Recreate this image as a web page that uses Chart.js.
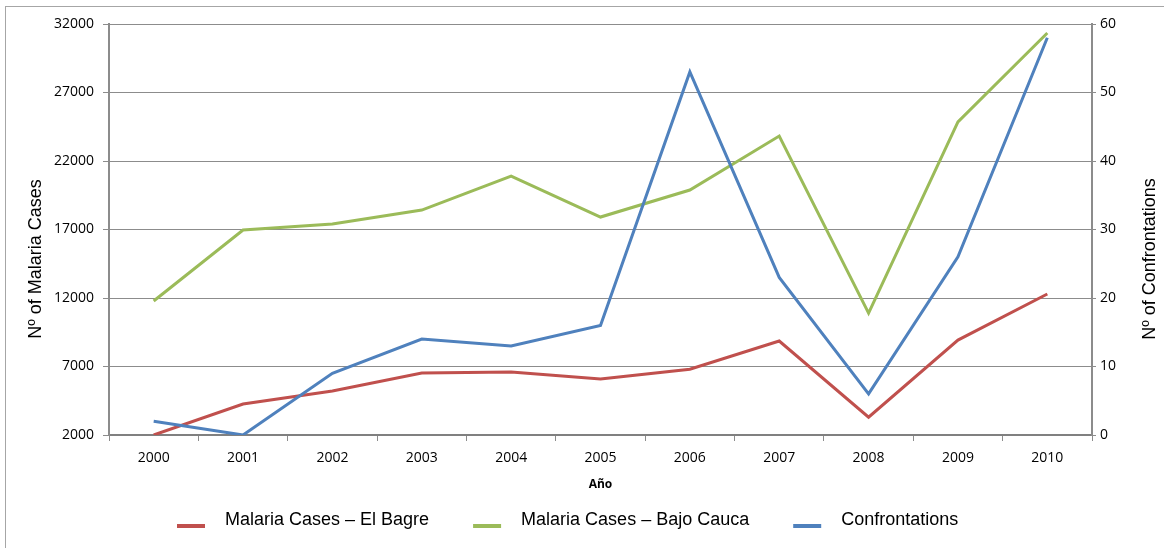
<!DOCTYPE html>
<html>
<head>
<meta charset="utf-8">
<title>Malaria cases and confrontations</title>
<script src="https://cdn.jsdelivr.net/npm/chart.js@4.4.0/dist/chart.umd.min.js"></script>
<style>
  html, body { margin: 0; padding: 0; background: #fff; }
  #wrap { width: 1164px; height: 548px; position: relative; }
</style>
</head>
<body>
<div id="wrap"><canvas id="malaria-chart"></canvas></div>
<script>
// values
const years = ["2000", "2001", "2002", "2003", "2004", "2005", "2006", "2007", "2008", "2009", "2010"]
const elBagreCases = [2000, 4260, 5210, 6530, 6600, 6090, 6800, 8860, 3300, 8930, 12290]
const bajoCaucaCases = [11780, 16960, 17400, 18420, 20900, 17910, 19880, 23820, 10900, 24850, 31340]
const confrontations = [2, 0, 9, 14, 13, 16, 53, 23, 6, 26, 58]

const seriesLabels = ["Malaria Cases – El Bagre", "Malaria Cases – Bajo Cauca", "Confrontations"]
const seriesColors = ["#C0504D", "#9BBB59", "#4F81BD"]

const leftTitle = "Nº of Malaria Cases"
const rightTitle = "Nº of Confrontations"
const xTitle = "Año"

const gridColor = "#8c8c8c"
const tickFont = { family: "'Open Sans', sans-serif", size: 14 }

// frame, rotated axis titles and the legend row under the chart
const chartDecor = {
  id: "chartDecor",
  beforeDraw(chart) {
    let ctx = chart.ctx
    ctx.save()
    ctx.strokeStyle = "#a6a6a6"
    ctx.lineWidth = 1
    ctx.strokeRect(5.5, 6.5, 3000, 3000)
    ctx.restore()
  },
  afterDraw(chart) {
    let ctx = chart.ctx
    ctx.save()
    ctx.font = "18px 'Liberation Sans', Arial, sans-serif"
    ctx.fillStyle = "#000"
    ctx.textAlign = "center"
    ctx.textBaseline = "middle"

    ctx.save()
    ctx.translate(36, 259)
    ctx.rotate(-Math.PI / 2)
    ctx.fillText(leftTitle, 0, 0)
    ctx.restore()

    ctx.save()
    ctx.translate(1150, 259)
    ctx.rotate(-Math.PI / 2)
    ctx.fillText(rightTitle, 0, 0)
    ctx.restore()

    // legend
    ctx.textAlign = "left"
    let x = 177
    chart.data.datasets.forEach(function (ds) {
      ctx.fillStyle = ds.borderColor
      ctx.fillRect(x, 524, 28, 4)
      ctx.fillStyle = "#000"
      ctx.fillText(ds.label, x + 48, 520)
      x += 48 + ctx.measureText(ds.label).width + 44
    })
    ctx.restore()
  },
}

let ctxLine = document.getElementById("malaria-chart").getContext("2d")
let malariaChart = new Chart(ctxLine, {
  type: "line",
  data: {
    labels: years,
    datasets: [
      {
        label: seriesLabels[0],
        data: elBagreCases,
        yAxisID: "y",
        borderColor: seriesColors[0],
        backgroundColor: seriesColors[0],
        borderWidth: 3,
        pointRadius: 0,
        tension: 0,
        order: 1,
      },
      {
        label: seriesLabels[1],
        data: bajoCaucaCases,
        yAxisID: "y",
        borderColor: seriesColors[1],
        backgroundColor: seriesColors[1],
        borderWidth: 3,
        pointRadius: 0,
        tension: 0,
        order: 2,
      },
      {
        label: seriesLabels[2],
        data: confrontations,
        yAxisID: "y1",
        borderColor: seriesColors[2],
        backgroundColor: seriesColors[2],
        borderWidth: 3,
        pointRadius: 0,
        tension: 0,
        order: 0,
      },
    ],
  },
  options: {
    responsive: true,
    maintainAspectRatio: false,
    animation: false,
    layout: {
      padding: { left: 5, right: 0, top: 24, bottom: 53 },
    },
    plugins: {
      legend: { display: false },
      tooltip: { enabled: false },
    },
    scales: {
      x: {
        offset: true,
        grid: { offset: true, drawOnChartArea: false, tickLength: 6, color: gridColor },
        border: { color: "#808080", width: 2 },
        ticks: { font: tickFont, color: "#000", padding: 9, maxRotation: 0 },
        title: {
          display: true,
          text: xTitle,
          color: "#000",
          font: { family: "'Open Sans', sans-serif", size: 12, weight: "bold" },
          padding: { top: 0, bottom: 3 },
        },
        afterFit: function (scale) {
          scale.height = 60
        },
      },
      y: {
        position: "left",
        min: 2000,
        max: 32000,
        ticks: {
          stepSize: 5000,
          font: tickFont,
          color: "#000",
          padding: 9,
          callback: function (value) {
            return String(value)
          },
        },
        grid: { color: gridColor, tickLength: 6 },
        border: { color: gridColor, width: 2 },
        afterFit: function (scale) {
          scale.width = 104
        },
      },
      y1: {
        position: "right",
        min: 0,
        max: 60,
        ticks: { stepSize: 10, font: tickFont, color: "#000", padding: 4 },
        grid: { drawOnChartArea: false, color: gridColor, tickLength: 4 },
        border: { color: gridColor, width: 2 },
        afterFit: function (scale) {
          scale.width = 72
        },
      },
    },
  },
  plugins: [chartDecor],
})
</script>
</body>
</html>
